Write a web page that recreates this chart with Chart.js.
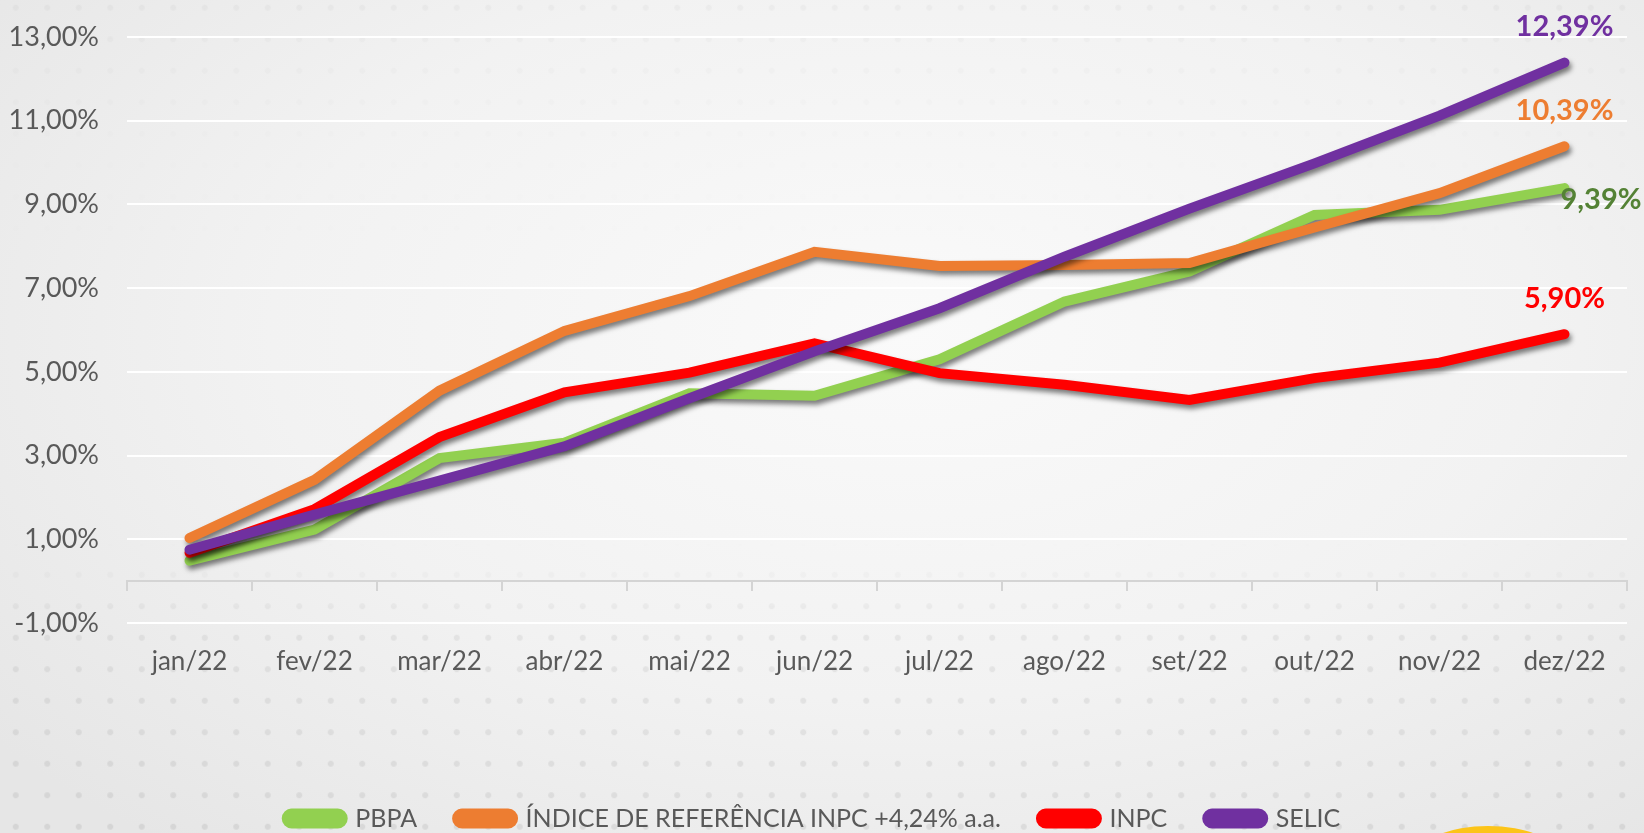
<!DOCTYPE html>
<html>
<head>
<meta charset="utf-8">
<script src="https://cdn.jsdelivr.net/npm/chart.js@4.4.1/dist/chart.umd.min.js"></script>
<style>
  html, body { margin: 0; padding: 0; }
  body {
    width: 1644px; height: 833px; overflow: hidden; position: relative;
    background: radial-gradient(ellipse 70% 80% at 55% 40%, #fafafa 0%, #f2f2f2 55%, #e6e6e6 100%);
  }
  #dots {
    position: absolute; left: 0; top: 0; width: 1644px; height: 833px;
    background-image: radial-gradient(circle, rgba(0,0,0,0.07) 2.5px, transparent 3.5px);
    background-size: 31.5px 31.5px;
    background-position: 0 -8px;
    -webkit-mask-image: linear-gradient(to bottom, rgba(0,0,0,0.4) 0px, rgba(0,0,0,0.1) 120px, transparent 300px, transparent 540px, rgba(0,0,0,0.8) 640px, #000 833px);
    mask-image: linear-gradient(to bottom, rgba(0,0,0,0.4) 0px, rgba(0,0,0,0.1) 120px, transparent 300px, transparent 540px, rgba(0,0,0,0.8) 640px, #000 833px);
  }
  #sun {
    position: absolute; left: 1418px; top: 826px; width: 140px; height: 60px;
    border-radius: 50%; background: #fcc419;
  }
  #wrap { position: absolute; left: 0; top: 0; width: 1644px; height: 833px; }
</style>
</head>
<body>
<div id="dots"></div>
<div id="sun"></div>
<div id="wrap"><canvas id="chart"></canvas></div>
<script>
var months = ['jan/22', 'fev/22', 'mar/22', 'abr/22', 'mai/22', 'jun/22', 'jul/22', 'ago/22', 'set/22', 'out/22', 'nov/22', 'dez/22'];
var pbpa = [0.49, 1.23, 2.94, 3.31, 4.49, 4.43, 5.30, 6.68, 7.40, 8.75, 8.87, 9.39];
var indiceRef = [1.03, 2.42, 4.55, 5.98, 6.81, 7.87, 7.53, 7.55, 7.60, 8.45, 9.27, 10.39];
var inpc = [0.68, 1.72, 3.44, 4.51, 4.98, 5.68, 4.97, 4.69, 4.33, 4.85, 5.22, 5.90];
var selic = [0.75, 1.59, 2.40, 3.22, 4.37, 5.49, 6.52, 7.75, 8.90, 9.98, 11.12, 12.39];
var yTicks = [-1, 1, 3, 5, 7, 9, 11, 13];

var fmtPct = function(v) {
  return v.toFixed(2).replace('.', ',') + '%';
};

// drop shadow under every line, like the office chart
var shadowPlugin = {
  id: 'lineShadow',
  beforeDatasetDraw: function(chart) {
    var ctx = chart.ctx;
    ctx.save();
    ctx.shadowColor = 'rgba(0,0,0,0.5)';
    ctx.shadowBlur = 5;
    ctx.shadowOffsetX = 2;
    ctx.shadowOffsetY = 4;
  },
  afterDatasetDraw: function(chart) {
    chart.ctx.restore();
  }
};

// value label at the last point of each series
var endLabelPlugin = {
  id: 'endLabels',
  afterDatasetsDraw: function(chart) {
    var ctx = chart.ctx;
    chart.data.datasets.forEach(function(ds, i) {
      var meta = chart.getDatasetMeta(i);
      var last = meta.data[meta.data.length - 1];
      var lab = ds.endLabel;
      ctx.save();
      ctx.font = 'bold 29px Lato';
      ctx.fillStyle = lab.color;
      ctx.textAlign = lab.align;
      ctx.textBaseline = 'middle';
      ctx.fillText(fmtPct(ds.data[ds.data.length - 1]), last.x + lab.dx, last.y + lab.dy);
      ctx.restore();
    });
  }
};

function line(label, data, color, order, endLabel) {
  return {
    label: label,
    data: data,
    borderColor: color,
    backgroundColor: color,
    borderWidth: 10,
    borderCapStyle: 'round',
    borderJoinStyle: 'miter',
    pointRadius: 0,
    tension: 0,
    order: order,
    endLabel: endLabel
  };
}

new Chart(document.getElementById('chart'), {
  type: 'line',
  data: {
    labels: months,
    datasets: [
      line('PBPA', pbpa, '#92d050', 4, {color: '#548235', align: 'left', dx: -4, dy: 12}),
      line('ÍNDICE DE REFERÊNCIA INPC +4,24% a.a.', indiceRef, '#ed7d31', 3, {color: '#ed7d31', align: 'center', dx: 0, dy: -36}),
      line('INPC', inpc, '#ff0000', 2, {color: '#ff0000', align: 'center', dx: 0, dy: -36}),
      line('SELIC', selic, '#7030a0', 1, {color: '#7030a0', align: 'center', dx: 0, dy: -36})
    ]
  },
  options: {
    responsive: true,
    maintainAspectRatio: false,
    animation: false,
    layout: { padding: { top: 37, right: 17, bottom: -8, left: 0 } },
    scales: {
      x: {
        type: 'category',
        position: 'bottom',
        offset: true,
        grid: { display: false, drawTicks: false, offset: true },
        border: { display: false },
        ticks: { color: '#595959', font: { family: 'Lato', size: 26 }, padding: 23, maxRotation: 0 },
        afterFit: function(scale) { scale.height = 143; }
      },
      x0: {
        type: 'category',
        axis: 'x',
        labels: months,
        offset: true,
        position: { y: 0 },
        grid: { offset: true, drawOnChartArea: false, drawTicks: true, tickLength: 9, color: '#d4d4d4', lineWidth: 2 },
        border: { display: true, color: '#d4d4d4', width: 2 },
        ticks: { display: false }
      },
      y: {
        min: -1,
        max: 13,
        afterBuildTicks: function(scale) {
          scale.ticks = yTicks.map(function(v) { return { value: v }; });
        },
        grid: { color: '#ffffff', lineWidth: 2, drawTicks: true, tickLength: 23, tickColor: 'rgba(0,0,0,0)' },
        border: { display: false },
        ticks: {
          color: '#595959',
          font: { family: 'Lato', size: 27 },
          padding: 5,
          callback: function(v) { return fmtPct(v); }
        },
        afterFit: function(scale) { scale.width = 127; }
      }
    },
    plugins: {
      legend: {
        position: 'bottom',
        labels: {
          color: '#595959',
          font: { family: 'Lato', size: 25 },
          boxWidth: 56,
          boxHeight: 10,
          useBorderRadius: true,
          borderRadius: 5,
          padding: 40,
          sort: function(a, b) { return a.datasetIndex - b.datasetIndex; }
        }
      },
      tooltip: { enabled: false }
    }
  },
  plugins: [shadowPlugin, endLabelPlugin]
});
</script>
</body>
</html>
